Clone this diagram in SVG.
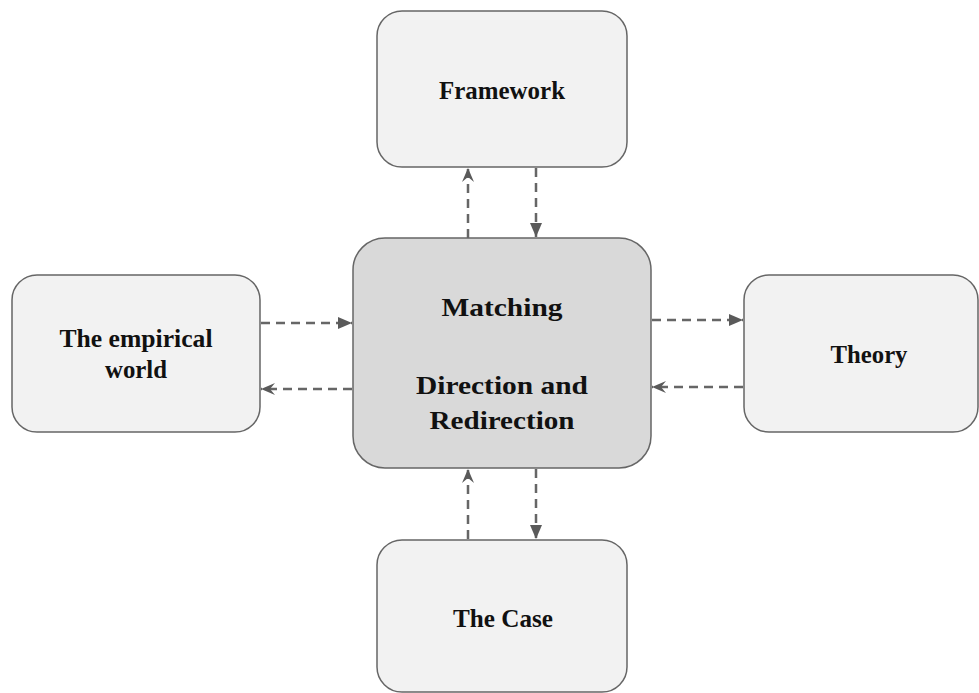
<svg xmlns="http://www.w3.org/2000/svg" width="979" height="693" viewBox="0 0 979 693">
  <style>
    .box { fill: #f2f2f2; stroke: #666666; stroke-width: 1.5; }
    .core { fill: #d9d9d9; stroke: #666666; stroke-width: 1.5; }
    .lbl { font-family: "Liberation Serif", "Times New Roman", serif; font-weight: bold; font-size: 25px; fill: #111111; text-anchor: middle; }
    .link { fill: none; stroke: #666666; stroke-width: 2.5; stroke-dasharray: 9 6; }
  </style>
  <defs>
    <!-- filled triangular head -->
    <marker id="solidv" viewBox="0 0 14 14" refX="14" refY="7" markerWidth="14" markerHeight="14" orient="auto" markerUnits="userSpaceOnUse">
      <path d="M0,1 L14,7 L0,13 Z" fill="#5a5a5a"/>
    </marker>
    <!-- notched head -->
    <marker id="openv" viewBox="0 0 14 14" refX="14" refY="7" markerWidth="14" markerHeight="14" orient="auto" markerUnits="userSpaceOnUse">
      <path d="M0,1 L14,7 L0,13 L5,7 Z" fill="#5a5a5a"/>
    </marker>
  </defs>

  <g id="connectors">
    <!-- Framework pair -->
    <line class="link" x1="468" y1="238" x2="468" y2="168" marker-end="url(#openv)"/>
    <line class="link" x1="536" y1="168" x2="536" y2="237" marker-end="url(#solidv)"/>
    <!-- Empirical world pair -->
    <line class="link" x1="261" y1="323" x2="352" y2="323" marker-end="url(#solidv)"/>
    <line class="link" x1="352" y1="389" x2="261" y2="389" marker-end="url(#openv)"/>
    <!-- Theory pair -->
    <line class="link" x1="652" y1="320" x2="743" y2="320" marker-end="url(#solidv)"/>
    <line class="link" x1="743" y1="387" x2="652" y2="387" marker-end="url(#openv)"/>
    <!-- Case pair -->
    <line class="link" x1="468" y1="539" x2="468" y2="469" marker-end="url(#openv)"/>
    <line class="link" x1="536" y1="469" x2="536" y2="539" marker-end="url(#solidv)"/>
  </g>

  <g id="framework">
    <rect class="box" x="377" y="11" width="250" height="156" rx="25"/>
    <text class="lbl" x="502" y="99" textLength="126" lengthAdjust="spacingAndGlyphs">Framework</text>
  </g>

  <g id="matching">
    <rect class="core" x="353" y="238" width="298" height="230" rx="32"/>
    <text class="lbl" x="502" y="316" textLength="121" lengthAdjust="spacingAndGlyphs">Matching</text>
    <text class="lbl" x="502" y="394" textLength="172" lengthAdjust="spacingAndGlyphs">Direction and</text>
    <text class="lbl" x="502" y="429" textLength="145" lengthAdjust="spacingAndGlyphs">Redirection</text>
  </g>

  <g id="empirical">
    <rect class="box" x="12" y="275" width="248" height="157" rx="25"/>
    <text class="lbl" x="136" y="347" textLength="153" lengthAdjust="spacingAndGlyphs">The empirical</text>
    <text class="lbl" x="136" y="378" textLength="62" lengthAdjust="spacingAndGlyphs">world</text>
  </g>

  <g id="theory">
    <rect class="box" x="744" y="275" width="234" height="157" rx="25"/>
    <text class="lbl" x="869" y="363" textLength="77" lengthAdjust="spacingAndGlyphs">Theory</text>
  </g>

  <g id="case">
    <rect class="box" x="377" y="540" width="250" height="152" rx="25"/>
    <text class="lbl" x="503" y="627" textLength="100" lengthAdjust="spacingAndGlyphs">The Case</text>
  </g>
</svg>
